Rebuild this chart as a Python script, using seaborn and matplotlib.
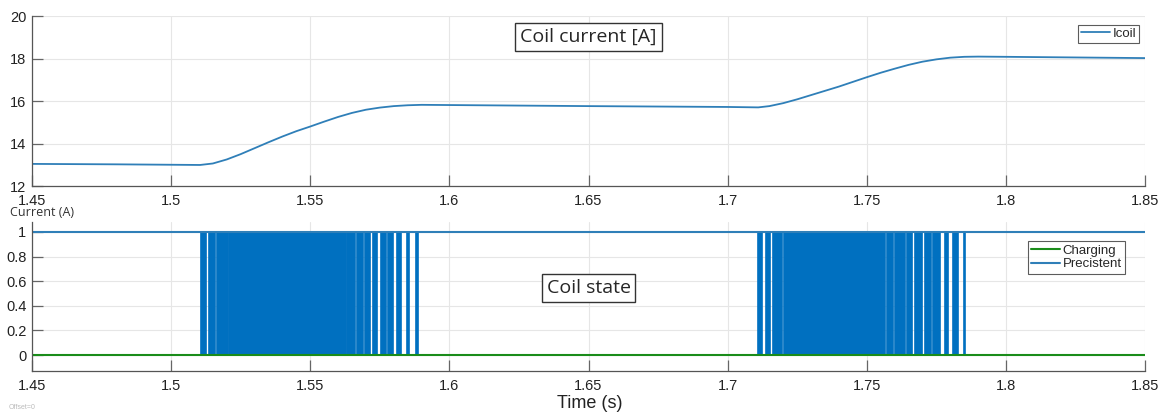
import numpy as np
import pandas as pd
import seaborn as sns
import matplotlib.pyplot as plt
from matplotlib.ticker import FixedLocator, FixedFormatter

# coil current
t_coil = [1.45, 1.48, 1.5104, 1.515, 1.52, 1.525, 1.53, 1.535, 1.54, 1.545,
          1.55, 1.555, 1.56, 1.565, 1.57, 1.575, 1.58, 1.585, 1.59, 1.60,
          1.65, 1.70, 1.711, 1.715, 1.72, 1.725, 1.73, 1.735, 1.74, 1.745,
          1.75, 1.755, 1.76, 1.765, 1.77, 1.775, 1.78, 1.785, 1.79, 1.80, 1.85]
i_coil = [13.04, 13.02, 12.99, 13.06, 13.25, 13.50, 13.78, 14.06, 14.33, 14.58,
          14.80, 15.03, 15.25, 15.44, 15.59, 15.69, 15.76, 15.80, 15.82, 15.81,
          15.76, 15.72, 15.70, 15.76, 15.90, 16.08, 16.28, 16.48, 16.68, 16.90,
          17.12, 17.33, 17.52, 17.70, 17.85, 17.96, 18.04, 18.08, 18.09, 18.08, 18.02]

# switching blocks of the Precistent signal (start, end) in seconds
pulse_start = [1.51074, 1.51361, 1.51649, 1.5208, 1.5632, 1.5668, 1.56968, 1.57255,
               1.57543, 1.57794, 1.58118, 1.58477, 1.58801,
               1.71092, 1.71380, 1.71631, 1.72026, 1.75728, 1.76016, 1.76447,
               1.76735, 1.77094, 1.77382, 1.77813, 1.78101, 1.78496]
pulse_end = [1.51253, 1.51577, 1.52044, 1.56285, 1.56608, 1.56896, 1.57147, 1.57399,
             1.57722, 1.57974, 1.58262, 1.58549, 1.58872,
             1.71236, 1.71523, 1.71954, 1.75656, 1.75944, 1.76375, 1.76627,
             1.76986, 1.7731, 1.77633, 1.77921, 1.78281, 1.78532]

t_span = [1.45, 1.85]
charging = [0, 0]
precistent = [1, 1]

x_ticks = [1.45, 1.5, 1.55, 1.6, 1.65, 1.7, 1.75, 1.8, 1.85]
x_labels = ['1.45', '1.5', '1.55', '1.6', '1.65', '1.7', '1.75', '1.8', '1.85']
top_yticks = [12, 14, 16, 18, 20]
bot_yticks = [0, 0.2, 0.4, 0.6, 0.8, 1]
bot_ylabels = ['0', '0.2', '0.4', '0.6', '0.8', '1']

blue_line = '#2f7fb8'
blue_fill = '#0070c0'
green = '#1a8c1a'

sns.set_theme(style='whitegrid')
plt.rcParams['font.family'] = ['Liberation Sans', 'DejaVu Sans']

fig = plt.figure(figsize=(11.64, 4.15), dpi=100)
ax1 = fig.add_axes([0.0275, 0.5518, 0.9562, 0.4096])
ax2 = fig.add_axes([0.0275, 0.106, 0.9562, 0.359])

df_coil = pd.DataFrame({'t': t_coil, 'Icoil': i_coil})
sns.lineplot(data=df_coil, x='t', y='Icoil', ax=ax1, color=blue_line, lw=1.3, label='Icoil')

for s, e in zip(pulse_start, pulse_end):
    ax2.fill_between([s, e], 0, 1, color=blue_fill, lw=0)
    ax2.plot([s, s], [0, 1], color=blue_fill, lw=1.2)
    ax2.plot([e, e], [0, 1], color=blue_fill, lw=1.2)

df_state = pd.DataFrame({'t': t_span, 'Charging': charging, 'Precistent': precistent})
sns.lineplot(data=df_state, x='t', y='Charging', ax=ax2, color=green, lw=1.5, label='Charging')
sns.lineplot(data=df_state, x='t', y='Precistent', ax=ax2, color=blue_line, lw=1.5, label='Precistent')

for ax in (ax1, ax2):
    ax.set_xlim(1.45, 1.85)
    ax.xaxis.set_major_locator(FixedLocator(x_ticks))
    ax.xaxis.set_major_formatter(FixedFormatter(x_labels))
    ax.set_xlabel('')
    ax.set_ylabel('')
    ax.grid(True, color='#e6e6e6', lw=0.8)
    for side in ('top', 'right'):
        ax.spines[side].set_visible(False)
    for side in ('left', 'bottom'):
        ax.spines[side].set_color('#555555')
        ax.spines[side].set_linewidth(0.9)
    ax.tick_params(direction='in', length=8, width=0.9, color='#666666',
                   labelsize=10.5, labelcolor='#222222', pad=4, left=True, bottom=True)
    ax.tick_params(axis='x', pad=6)
    ax.set_facecolor('white')

ax1.set_ylim(12, 20)
ax1.yaxis.set_major_locator(FixedLocator(top_yticks))
ax2.set_ylim(-0.13, 1.081)
ax2.yaxis.set_major_locator(FixedLocator(bot_yticks))
ax2.yaxis.set_major_formatter(FixedFormatter(bot_ylabels))

leg1 = ax1.legend(loc='upper right', bbox_to_anchor=(0.995, 0.95), fontsize=9.5,
                  frameon=True, fancybox=False, handlelength=2.2, handletextpad=0.2,
                  borderpad=0.25, borderaxespad=0)
leg1.get_frame().set_edgecolor('#333333')
leg1.get_frame().set_linewidth(0.8)
leg2 = ax2.legend(loc='upper right', bbox_to_anchor=(0.982, 0.87), fontsize=9.5,
                  frameon=True, fancybox=False, handlelength=2.2, handletextpad=0.2,
                  borderpad=0.25, borderaxespad=0, labelspacing=0.1)
leg2.get_frame().set_edgecolor('#333333')
leg2.get_frame().set_linewidth(0.8)

box = dict(boxstyle='square,pad=0.25', fc='white', ec='#333333', lw=1)
ax1.text(0.5, 0.876, 'Coil current [A]', transform=ax1.transAxes, ha='center', va='center',
         fontsize=14, family=['Open Sans', 'DejaVu Sans'], bbox=box)
ax2.text(0.5, 0.557, 'Coil state', transform=ax2.transAxes, ha='center', va='center',
         fontsize=14, family=['Open Sans', 'DejaVu Sans'], bbox=box)

fig.text(0.009, 0.487, 'Current (A)', fontsize=9, color='#333333', va='center',
         family=['Open Sans', 'DejaVu Sans'])
fig.text(0.507, 0.028, 'Time (s)', fontsize=13, ha='center', va='center', color='#222222')
fig.text(0.007, 0.018, 'Offset=0', fontsize=5, color='#bbbbbb', va='center')

fig.savefig('out.png', dpi=100)
